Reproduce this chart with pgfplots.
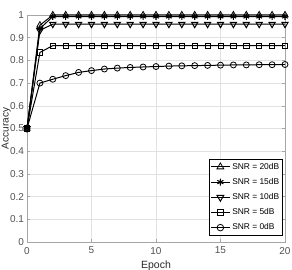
\documentclass[border=0pt]{standalone}
\usepackage{pgfplots}
\pgfplotsset{compat=1.18}
\usepackage{fontspec}
\setmainfont{Liberation Sans}
\definecolor{axgray}{RGB}{38,38,38}
\definecolor{gridgray}{RGB}{225,225,225}
\begin{document}
\begin{tikzpicture}
\begin{axis}[name=ax,
  scale only axis, width=258pt, height=227pt,
  xmin=0, xmax=20, ymin=0, ymax=1,
  xtick={0,5,10,15,20}, ytick={0,0.1,...,1},
  yticklabels={0,0.1,0.2,0.3,0.4,0.5,0.6,0.7,0.8,0.9,1},
  /pgf/number format/assume math mode=true,
  tick label style={font=\fontsize{10}{11}\selectfont, text=axgray!80},
  label style={font=\fontsize{10.5}{11}\selectfont, text=axgray},
  xlabel={Epoch}, ylabel={Accuracy},
  xlabel style={yshift=0pt}, ylabel style={yshift=-7.5pt, font=\fontsize{10}{11}\selectfont},
  xticklabel style={yshift=-1.5pt},
  yticklabel style={xshift=0.5pt},
  axis line style={gray!70, line width=0.5pt},
  tick style={gray!70, line width=0.4pt},
  tick align=inside, major tick length=3pt,
  xtick pos=both, ytick pos=both,
  grid=major, grid style={gridgray, line width=0.4pt},
  every axis plot/.append style={black, line width=1pt},
  mark options={solid, fill=white, line width=0.8pt},
  legend style={at={(0.992,0.03)}, anchor=south east, font=\fontsize{8.4}{9}\selectfont,
    draw=black, line width=0.5pt, inner sep=1.5pt, row sep=3.6pt, text=black},
  legend cell align=left,
  legend image post style={scale=1.1},
]
\addplot[mark=triangle, mark size=3.6pt] coordinates {
(0,0.5)(1,0.955)(2,1.0)(3,1.0)(4,1.0)(5,1.0)(6,1.0)(7,1.0)(8,1.0)(9,1.0)(10,1.0)
(11,1.0)(12,1.0)(13,1.0)(14,1.0)(15,1.0)(16,1.0)(17,1.0)(18,1.0)(19,1.0)(20,1.0)};
\addlegendentry{SNR = 20dB}
\addplot[mark=asterisk, mark size=3.2pt, mark options={line width=1.1pt}] coordinates {
(0,0.5)(1,0.94)(2,0.993)(3,0.993)(4,0.993)(5,0.993)(6,0.993)(7,0.993)(8,0.993)(9,0.993)(10,0.993)
(11,0.993)(12,0.993)(13,0.993)(14,0.993)(15,0.993)(16,0.993)(17,0.993)(18,0.993)(19,0.993)(20,0.993)};
\addlegendentry{SNR = 15dB}
\addplot[mark=triangle, mark size=3.6pt, mark options={rotate=180}] coordinates {
(0,0.5)(1,0.932)(2,0.96)(3,0.96)(4,0.96)(5,0.96)(6,0.96)(7,0.96)(8,0.96)(9,0.96)(10,0.96)
(11,0.96)(12,0.96)(13,0.96)(14,0.96)(15,0.96)(16,0.96)(17,0.96)(18,0.96)(19,0.96)(20,0.96)};
\addlegendentry{SNR = 10dB}
\addplot[mark=square, mark size=2.6pt] coordinates {
(0,0.5)(1,0.835)(2,0.865)(3,0.865)(4,0.865)(5,0.865)(6,0.865)(7,0.865)(8,0.865)(9,0.865)(10,0.865)
(11,0.865)(12,0.865)(13,0.865)(14,0.865)(15,0.865)(16,0.865)(17,0.865)(18,0.865)(19,0.865)(20,0.865)};
\addlegendentry{SNR = 5dB}
\addplot[mark=o, mark size=3pt] coordinates {
(0,0.5)(1,0.70)(2,0.717)(3,0.733)(4,0.747)(5,0.755)(6,0.762)(7,0.766)(8,0.769)(9,0.771)(10,0.773)
(11,0.775)(12,0.776)(13,0.777)(14,0.778)(15,0.779)(16,0.78)(17,0.78)(18,0.781)(19,0.781)(20,0.782)};
\addlegendentry{SNR = 0dB}
\end{axis}
\pgfresetboundingbox
\path (ax.south west)++(-27pt,-28pt) coordinate (bl);
\path (ax.north east)++(7pt,15pt) coordinate (tr);
\path[use as bounding box] (bl) rectangle (tr);
\end{tikzpicture}
\end{document}
